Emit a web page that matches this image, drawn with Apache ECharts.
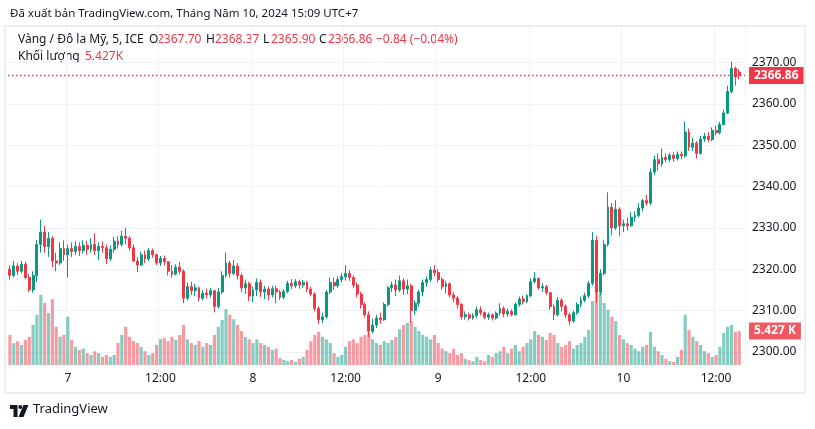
<!DOCTYPE html>
<html><head><meta charset="utf-8">
<script src="https://cdn.jsdelivr.net/npm/echarts@6/dist/echarts.min.js"></script>
<style>html,body{margin:0;padding:0;background:#fff}#c{width:815px;height:429px}</style>
</head><body><div id="c"></div>
<script>
// 30-minute bars from 6 May 16:30 to 10 May 15:00 (UTC+7)
const opens = [
2320,2318.5,2320.8,2319.5,2321.2,2318,2315,2318.5,2326,2329,2325.5,2327.5,2322,2321.5,2325,
2323.5,2325,2324.3,2325.5,2324.5,2325.8,2324.8,2326,2324.5,2325.5,2325.2,2322.5,2324.8,2326.8,2326,2328,2327.5,2325.2,2322,2321,2323.5,2322.5,2324.5,2323.5,2321.5,2322.6,2321.8,2319.5,2318.8,2320.5,2319.5,2313,2315.8,2314.8,2315.5,2313,2314.2,2313.8,2314.8,2311,2314.5,2318.5,2321.5,2319,2320.8,2318.5,2315.5,2316.5,
2313.5,2315,2316.8,2314.5,2315.2,2313.8,2315.3,2314.5,2313.2,2314.6,2316.6,2316,2317,2316.2,2316.8,2315.2,2314,2310.5,2307.8,2308.5,2314.5,2316.8,2316,2317.5,2318.2,2319,2318,2316.2,2314,2311.5,2309,2305,2306.5,2308.2,2307.8,2311.5,2315.5,2316.2,2315,2317.2,2315.2,2316,2310,2311.8,2314.5,2316.8,2317.5,
2319.8,2319.2,2317.5,2315.8,2316.5,2313.8,2313,2311.5,2308.5,2309,2308.2,2308.8,2310.2,2309.5,2308.4,2309,2308.2,2309.4,2310.5,2309.2,2309.8,2309,2311.5,2312.8,2312.2,2313.6,2317,2317.8,2315.5,2315.8,2314.3,2311,2309,2312.5,2311,2309,2307.5,2309.5,2311.5,2312.5,2313.6,2316.6,2327,2314.5,2319,2326,2335,2330,2334.5,
2330.5,2331,2330.5,2332.6,2333,2334.8,2336.6,2336,2343.5,2346.5,2345.5,2347,2346.5,2347.6,2346.8,2347.8,2347.4,2353.2,2349.5,2350.5,2348,2351.5,2352.2,2351.4,2353.6,2353,2355,2357.8,2363,2368.6,2367.7
];
const highs = [
2321,2322,2321.5,2322,2321.8,2318.8,2319.5,2327,2332,2330.5,2329,2328,2324,2326.5,2327,
2326,2326.5,2326.8,2326.5,2327,2326.8,2327.5,2328.7,2326.5,2326.8,2326,2325.8,2327.8,2328,2329.3,2330,2328,2326,2323,2324.3,2324.5,2325.2,2325,2323.8,2323.2,2323.3,2322,2321,2321.2,2321.8,2320,2316.8,2317,2316.5,2315.8,2315,2315.3,2315.5,2315,2315.5,2319.5,2324,2322,2322.2,2321.5,2319,2317.5,2317,
2315.8,2317.8,2317.5,2316,2315.8,2316,2316,2315,2315.2,2317.2,2317.6,2317.6,2317.5,2317.4,2317.2,2315.8,2314.4,2311,2309.5,2315,2318,2318,2318.3,2319,2321,2319.8,2318.5,2316.8,2314.5,2312,2309.8,2308,2309,2309.5,2312,2316,2317,2317.5,2318.5,2317.8,2317.5,2316.5,2312.5,2315,2317.5,2318.3,2320.5,
2321,2320,2318,2317.2,2316.8,2314.5,2313.5,2311.8,2309.8,2309.5,2309.4,2311,2311,2309.8,2309.5,2309.3,2309.8,2311.8,2311,2310.5,2310.3,2312,2313.4,2313.6,2314,2317.8,2319.3,2318,2316.6,2316.2,2314.5,2311.5,2313.3,2313,2311.5,2309.5,2310,2312,2313.4,2314.3,2317.2,2329,2328,2320,2327,2338.6,2336,2336.7,2335,
2332,2332.5,2333.8,2334,2336,2337,2338,2344.4,2347.5,2348,2349.2,2348,2348.2,2348.3,2348.5,2348.5,2355.7,2354,2351.8,2351,2352.3,2353,2353.2,2354.3,2354.8,2355.6,2358.6,2364.4,2370.2,2369,2368.37
];
const lows = [
2317.5,2318,2318.6,2319,2317.5,2314.5,2314.3,2317,2324,2324,2323,2320.5,2319.5,2321,2322,
2318,2323,2323.5,2323.2,2323.8,2323.5,2324,2323.5,2322.2,2324,2321.3,2322,2324,2325,2325.5,2326,2324.5,2321.8,2319.3,2320.8,2321.5,2322,2322.8,2321,2320.8,2321,2318.5,2318,2318.5,2318.8,2311.8,2312.5,2313.8,2313.5,2312.3,2312.5,2313,2313.2,2309.6,2310.5,2314,2318,2318,2318.6,2317.5,2314.5,2314,2312.3,
2312,2313.5,2313.3,2312.8,2312.5,2313.2,2311.8,2312.6,2312.8,2314.2,2315.2,2315.5,2315.3,2315.5,2314.5,2313.5,2309.8,2306.7,2307,2308,2314,2315,2315.5,2316.8,2317.3,2317.2,2315.5,2313.2,2310.5,2308.3,2303.6,2304.5,2305.8,2306.8,2307.5,2311,2314.5,2313.5,2314.5,2313.8,2314,2307,2309,2311,2313.5,2315.8,2317,
2318.3,2316.8,2315,2314.2,2313.2,2312,2310.5,2307.8,2307.8,2307.6,2307.8,2308.2,2308.8,2307.9,2307.8,2307.6,2307.8,2308.8,2308.4,2308.5,2308.6,2308.8,2311,2311.5,2311.8,2313.2,2316.6,2315,2314.5,2313.8,2310.2,2307.7,2308.6,2309.8,2308.2,2306.5,2307,2309,2310.8,2312,2313,2316,2311.8,2313.7,2318.5,2325.5,2328.2,2329.5,2328,
2329,2329.3,2330.3,2331.5,2332.6,2334,2335.4,2335.5,2342.8,2343.8,2344.8,2345.8,2346,2346,2346.3,2346.6,2347,2348.6,2348.5,2346.8,2347.8,2350.8,2350.7,2351,2352.4,2352.6,2354.8,2357.5,2362.5,2364.4,2365.9
];
const closes = [
2318.5,2320.8,2319.5,2321.2,2318,2315,2318.5,2326,2329,2325.5,2327.5,2322,2321.5,2325,2323.5,
2325,2324.3,2325.5,2324.5,2325.8,2324.8,2326,2324.5,2325.5,2325.2,2322.5,2324.8,2326.8,2326,2328,2327.5,2325.2,2322,2321,2323.5,2322.5,2324.5,2323.5,2321.5,2322.6,2321.8,2319.5,2318.8,2320.5,2319.5,2313,2315.8,2314.8,2315.5,2313,2314.2,2313.8,2314.8,2311,2314.5,2318.5,2321.5,2319,2320.8,2318.5,2315.5,2316.5,2313.5,
2315,2316.8,2314.5,2315.2,2313.8,2315.3,2314.5,2313.2,2314.6,2316.6,2316,2317,2316.2,2316.8,2315.2,2314,2310.5,2307.8,2308.5,2314.5,2316.8,2316,2317.5,2318.2,2319,2318,2316.2,2314,2311.5,2309,2305,2306.5,2308.2,2307.8,2311.5,2315.5,2316.2,2315,2317.2,2315.2,2316,2310,2311.8,2314.5,2316.8,2317.5,2319.8,
2319.2,2317.5,2315.8,2316.5,2313.8,2313,2311.5,2308.5,2309,2308.2,2308.8,2310.2,2309.5,2308.4,2309,2308.2,2309.4,2310.5,2309.2,2309.8,2309,2311.5,2312.8,2312.2,2313.6,2317,2317.8,2315.5,2315.8,2314.3,2311,2309,2312.5,2311,2309,2307.5,2309.5,2311.5,2312.5,2313.6,2316.6,2327,2314.5,2319,2326,2335,2330,2334.5,2330.5,
2331,2330.5,2332.6,2333,2334.8,2336.6,2336,2343.5,2346.5,2345.5,2347,2346.5,2347.6,2346.8,2347.8,2347.4,2353.2,2349.5,2350.5,2348,2351.5,2352.2,2351.4,2353.6,2353,2355,2357.8,2363,2368.6,2366.5,2366.86
];
// volume in thousands (K)
const volumes = [
4.8,3.5,3.8,3.2,4.0,4.5,6.4,8.0,11.2,9.9,8.3,10.5,6.1,4.5,4.8,
7.7,4.0,2.9,2.4,2.6,1.9,1.6,2.2,1.9,1.3,1.6,1.3,1.6,3.5,4.8,6.1,4.5,3.8,3.5,2.9,2.2,1.6,1.9,3.2,4.1,4.3,3.8,4.5,4.0,4.8,6.4,4.1,3.5,3.2,3.8,2.9,3.5,3.2,4.8,6.1,7.2,8.9,8.0,7.3,6.4,5.4,4.5,4.1,
3.5,4.1,3.5,3.2,2.9,2.4,2.6,1.1,0.8,0.6,0.8,0.5,1.0,1.3,2.4,3.8,4.8,5.3,4.5,4.1,3.5,1.9,1.3,1.6,2.9,3.8,4.1,3.5,4.5,4.8,5.1,4.1,3.5,3.2,3.8,3.5,4.0,4.5,5.7,6.4,6.7,7.0,6.1,5.4,4.8,4.5,4.1,
4.8,3.5,2.6,2.2,1.9,2.6,1.6,1.9,1.0,0.8,0.6,1.3,0.8,0.6,1.6,1.3,1.9,2.2,2.9,1.9,2.6,3.2,2.2,2.9,3.5,4.1,5.4,4.8,4.5,4.0,5.1,4.8,3.5,2.9,3.2,3.8,2.6,3.2,3.5,4.5,5.6,10.2,12.4,11.5,9.9,8.8,7.7,7.0,4.8,
4.1,3.5,3.2,2.6,2.2,2.9,3.2,5.3,2.9,2.2,1.6,1.0,0.6,0.5,1.3,2.4,8.0,5.6,4.5,3.8,3.2,2.2,1.9,1.3,1.6,2.9,5.1,6.1,6.4,5.3,5.427
];
const priceTicks = [2300, 2310, 2320, 2330, 2340, 2350, 2360, 2370];
const lastPrice = 2366.86;
const lastVolume = 5.427;

// category labels (time of each 30-min bar), one spare slot at the right edge
const categories = [];
function pad(n){return (n<10?'0':'')+n;}
for (let i = 0; i < opens.length + 1; i++) {
  const m = 16*60 + 30 + i*30;
  const d = 6 + Math.floor(m/1440), mm = m % 1440;
  categories.push(d + ' ' + pad(Math.floor(mm/60)) + ':' + pad(mm%60));
}
const candleData = opens.map((o,i)=>[o, closes[i], lows[i], highs[i]]);
const UP = '#089981', DOWN = '#F23645';
const volData = volumes.map((v,i)=>({value:v, itemStyle:{color: closes[i] >= opens[i] ? 'rgba(8,153,129,0.5)' : 'rgba(242,54,69,0.5)'}}));

function isTick(idx, val){ const t = String(val).split(' ')[1]; return t === '00:00' || t === '12:00'; }
function tickFmt(val){ const p = String(val).split(' '); return p[1] === '00:00' ? p[0] : (p[1] === '12:00' ? '12:00' : ''); }

const FONT = 'Noto Sans';
const TXT = '#131722';
const GRIDC = '#f0f3fa';
const F12 = '12px "Noto Sans"';
const chart = echarts.init(document.getElementById('c'), null, {renderer:'canvas'});
const gridLeft = 8, gridRight = 70;
const yTop = 21.15, yStep = 41.35; // 2380 at top, 2290 at bottom
chart.setOption({
  animation: false,
  textStyle: {fontFamily: FONT},
  grid: [
    {left: gridLeft, right: gridRight, top: yTop, height: yStep*9, containLabel:false},
    {left: gridLeft, right: gridRight, top: 27, bottom: 64, containLabel:false}
  ],
  xAxis: [
    {type:'category', gridIndex:0, data: categories, boundaryGap:true, show:false},
    {type:'category', gridIndex:1, data: categories, boundaryGap:true,
     axisLine:{show:false}, axisTick:{show:false},
     axisLabel:{interval: isTick, formatter: tickFmt, color: TXT, fontSize: 12, fontFamily: FONT, margin: 8},
     splitLine:{show:true, interval: isTick, lineStyle:{color: GRIDC, width:1}}}
  ],
  yAxis: [
    {type:'value', gridIndex:0, position:'right', min:2290, max:2380, interval:10,
     axisLine:{show:false}, axisTick:{show:false},
     axisLabel:{color: TXT, fontSize:12, fontFamily: FONT, margin: 7,
       formatter: v => priceTicks.indexOf(v) >= 0 ? v.toFixed(2) : ''},
     splitLine:{show:true, lineStyle:{color:['transparent',GRIDC,GRIDC,GRIDC,GRIDC,GRIDC,GRIDC,GRIDC,GRIDC,'transparent']}}},
    {type:'value', gridIndex:1, min:0, max:53.9, show:false, splitLine:{show:false}}
  ],
  series: [
    {type:'bar', xAxisIndex:1, yAxisIndex:1, data: volData, barWidth:'82%', z:1,
     markLine:{silent:true, symbol:'none', animation:false,
       data:[{yAxis:lastVolume}],
       lineStyle:{color:'rgba(0,0,0,0)', width:0},
       label:{show:true, position:'end', distance:4, formatter:'5.427 K', color:'#fff', backgroundColor:'#ef5a62',
              padding:[3,5,2,5], fontSize:12, fontWeight:'bold', fontFamily: FONT}}},
    {type:'candlestick', xAxisIndex:0, yAxisIndex:0, data: candleData, barWidth:'62%', z:5,
     itemStyle:{color:UP, color0:DOWN, borderColor:UP, borderColor0:DOWN, borderWidth:1},
     markLine:{silent:true, symbol:'none', animation:false,
       data:[{yAxis:lastPrice}],
       lineStyle:{color:DOWN, type:[1.5,2.5], width:1.3},
       label:{position:'end', distance:4, formatter:'2366.86', color:'#fff', backgroundColor:DOWN,
              padding:[3,5,2,5], fontSize:12, fontWeight:'bold', fontFamily: FONT}}}
  ],
  graphic: [
    {type:'rect', shape:{x:5, y:26, width:800, height:367}, style:{fill:'none', stroke:'#eceef3', lineWidth:2}, silent:true, z:-1},
    {type:'text', left:10, top:8, style:{text:'Đã xuất bản TradingView.com, Tháng Năm 10, 2024 15:09 UTC+7', fill:TXT, font:'11.5px "Noto Sans"'}},
    {type:'text', left:18, top:34, style:{text:'Vàng / Đô la Mỹ, 5, ICE', fill:TXT, font:F12}},
    {type:'text', left:149, top:34, style:{text:'O', fill:TXT, font:F12}},
    {type:'text', left:157, top:34, style:{text:'2367.70', fill:DOWN, font:F12}},
    {type:'text', left:206, top:34, style:{text:'H', fill:TXT, font:F12}},
    {type:'text', left:215, top:34, style:{text:'2368.37', fill:DOWN, font:F12}},
    {type:'text', left:263, top:34, style:{text:'L', fill:TXT, font:F12}},
    {type:'text', left:271, top:34, style:{text:'2365.90', fill:DOWN, font:F12}},
    {type:'text', left:319, top:34, style:{text:'C', fill:TXT, font:F12}},
    {type:'text', left:328, top:34, style:{text:'2366.86', fill:DOWN, font:F12}},
    {type:'text', left:376, top:34, style:{text:'−0.84 (−0.04%)', fill:DOWN, font:F12}},
    {type:'text', left:18, top:51, style:{text:'Khối lượng', fill:TXT, font:F12}},
    {type:'text', left:85, top:51, style:{text:'5.427K', fill:DOWN, font:F12}},
    {type:'polygon', shape:{points:[[10,405],[17.5,405],[17.5,417],[13.5,417],[13.5,409],[10,409]]}, style:{fill:TXT}},
    {type:'circle', shape:{cx:20.3, cy:407, r:2}, style:{fill:TXT}},
    {type:'polygon', shape:{points:[[23.5,405],[28.5,405],[23.5,417],[18.5,417]]}, style:{fill:TXT}},
    {type:'text', left:33, top:403, style:{text:'TradingView', fill:TXT, font:'13px "Noto Sans"'}}
  ]
});
</script></body></html>
